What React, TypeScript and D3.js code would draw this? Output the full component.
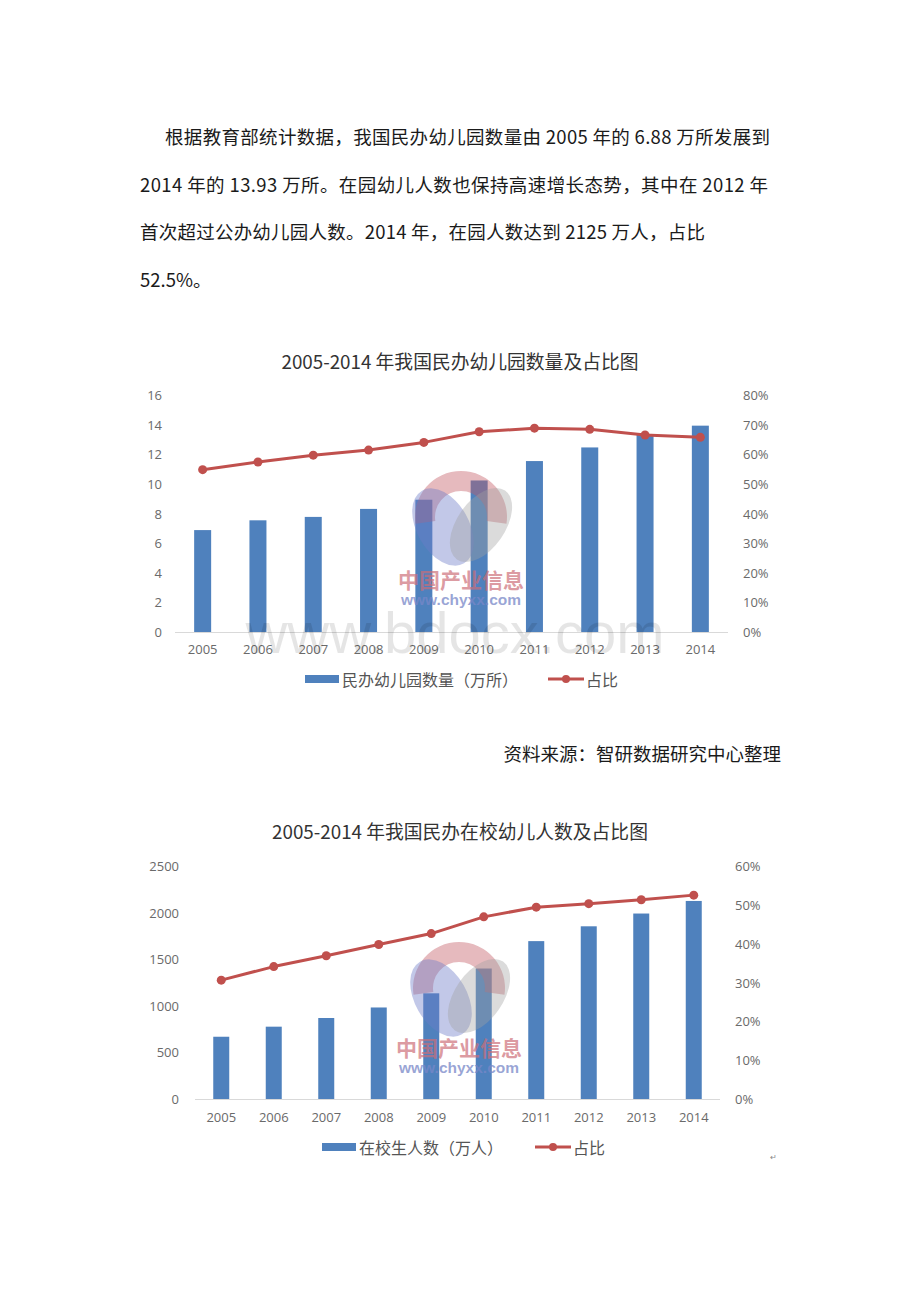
import React from 'react';
import * as d3 from 'd3';

const years = ['2005', '2006', '2007', '2008', '2009', '2010', '2011', '2012', '2013', '2014'];
const kgCount = [6.88, 7.54, 7.77, 8.31, 8.93, 10.23, 11.54, 12.46, 13.35, 13.93];
const kgShare = [54.8, 57.4, 59.7, 61.4, 64.0, 67.6, 68.8, 68.4, 66.5, 65.7];
const kgLeftTicks = [0, 2, 4, 6, 8, 10, 12, 14, 16];
const kgRightTicks = [0, 10, 20, 30, 40, 50, 60, 70, 80];

const stuCount = [668, 776, 869, 982, 1134, 1400, 1694, 1853, 1990, 2125];
const stuShare = [30.6, 34.1, 36.9, 39.8, 42.6, 46.9, 49.4, 50.3, 51.3, 52.5];
const stuLeftTicks = [0, 500, 1000, 1500, 2000, 2500];
const stuRightTicks = [0, 10, 20, 30, 40, 50, 60];

const paragraph = [
  '根据教育部统计数据，我国民办幼儿园数量由  2005 年的 6.88 万所发展到',
  '2014 年的 13.93 万所。在园幼儿人数也保持高速增长态势，其中在  2012 年',
  '首次超过公办幼儿园人数。2014 年，在园人数达到  2125 万人，占比',
  '52.5%。',
];

const CJK = '"Noto Sans CJK SC", "Noto Sans", sans-serif';
const NUM = '"Open Sans", "Noto Sans", sans-serif';
const BLUE = '#4F81BD';
const RED = '#C0504D';
const TICK = '#6a6a6a';

type ChartProps = {
  title: string;
  titleY: number;
  x0: number;
  x1: number;
  yTop: number;
  yBase: number;
  leftMax: number;
  rightMax: number;
  leftTicks: number[];
  rightTicks: number[];
  leftLabelX: number;
  rightLabelX: number;
  bars: number[];
  share: number[];
  yearY: number;
  legendY: number;
  legendX: number;
  legendLabel: string;
  legendTextW: number;
  barW: number;
};

function Chart(p: ChartProps) {
  const x = d3.scaleBand<string>().domain(years).range([p.x0, p.x1]);
  const yL = d3.scaleLinear().domain([0, p.leftMax]).range([p.yBase, p.yTop]);
  const yR = d3.scaleLinear().domain([0, p.rightMax]).range([p.yBase, p.yTop]);
  const cx = (d: string) => (x(d) as number) + x.bandwidth() / 2;
  const line = d3
    .line<number>()
    .x((_, i) => cx(years[i]))
    .y((v) => yR(v));
  const lx = p.legendX;
  const redX = lx + 37 + p.legendTextW + 30;
  return (
    <g>
      <text x={460} y={p.titleY} textAnchor="middle" dominantBaseline="central" fontFamily={CJK} fontSize={18.8} fill="#333">
        {p.title}
      </text>
      {p.leftTicks.map((t) => (
        <text key={'l' + t} x={p.leftLabelX} y={yL(t)} textAnchor="end" dominantBaseline="central" fontFamily={NUM} fontSize={13} fill={TICK}>
          {t}
        </text>
      ))}
      {p.rightTicks.map((t) => (
        <text key={'r' + t} x={p.rightLabelX} y={yR(t)} textAnchor="start" dominantBaseline="central" fontFamily={NUM} fontSize={13} fill={TICK}>
          {t + '%'}
        </text>
      ))}
      <line x1={p.x0} x2={p.x1} y1={p.yBase + 0.5} y2={p.yBase + 0.5} stroke="#d9d9d9" strokeWidth={1} />
      {p.bars.map((v, i) => (
        <rect key={years[i]} x={cx(years[i]) - p.barW / 2} y={yL(v)} width={p.barW} height={p.yBase - yL(v)} fill={BLUE} />
      ))}
      <path d={line(p.share) || ''} fill="none" stroke={RED} strokeWidth={3} strokeLinejoin="round" />
      {p.share.map((v, i) => (
        <circle key={'c' + i} cx={cx(years[i])} cy={yR(v)} r={4.5} fill={RED} />
      ))}
      {years.map((yr) => (
        <text key={'y' + yr} x={cx(yr)} y={p.yearY} textAnchor="middle" dominantBaseline="central" fontFamily={NUM} fontSize={13} fill={TICK}>
          {yr}
        </text>
      ))}
      <rect x={lx} y={p.legendY - 4} width={34} height={8} fill={BLUE} />
      <text x={lx + 37} y={p.legendY} dominantBaseline="central" fontFamily={CJK} fontSize={16} fill="#555">
        {p.legendLabel}
      </text>
      <line x1={redX} x2={redX + 36} y1={p.legendY} y2={p.legendY} stroke={RED} strokeWidth={3} />
      <circle cx={redX + 18} cy={p.legendY} r={4} fill={RED} />
      <text x={redX + 38} y={p.legendY} dominantBaseline="central" fontFamily={CJK} fontSize={16} fill="#555">
        占比
      </text>
    </g>
  );
}

function Logo({ cx, cy, textY }: { cx: number; cy: number; textY: number }) {
  const r = 46;
  const arc = d3.arc()({
    innerRadius: r - 20,
    outerRadius: r,
    startAngle: -Math.PI / 2 - 0.15,
    endAngle: Math.PI / 2 + 0.15,
  } as any) as string;
  return (
    <g>
      <path d={arc} transform={`translate(${cx},${cy})`} fill="rgba(196,90,100,0.42)" />
      <ellipse cx={cx - 18} cy={cy + 10} rx={26} ry={42} transform={`rotate(-30 ${cx - 18} ${cy + 10})`} fill="rgba(110,125,200,0.42)" />
      <ellipse cx={cx + 20} cy={cy + 8} rx={24} ry={42} transform={`rotate(35 ${cx + 20} ${cy + 8})`} fill="rgba(160,160,160,0.38)" />
      <text x={cx} y={textY} textAnchor="middle" dominantBaseline="central" fontFamily={CJK} fontWeight={700} fontSize={21} fill="rgba(205,110,120,0.7)">
        中国产业信息
      </text>
      <text x={cx} y={textY + 20} textAnchor="middle" dominantBaseline="central" fontFamily='"Liberation Sans", Arial, sans-serif' fontWeight={700} fontSize={15.5} fill="rgba(120,135,200,0.75)">
        www.chyxx.com
      </text>
    </g>
  );
}

export default function App() {
  return (
    <svg width={920} height={1302} style={{ position: 'absolute', left: 0, top: 0, background: '#fff' }}>
      <rect width={920} height={1302} fill="#fff" />
      {paragraph.map((t, i) => (
        <text
          key={i}
          x={i === 0 ? 165 : 140}
          y={144 + i * 47.7}
          fontFamily={CJK}
          fontSize={18.5}
          fill="#1a1a1a"
          textLength={i === 0 ? 605 : i === 1 ? 628 : i === 2 ? 565 : undefined}
          lengthAdjust="spacing"
        >
          {t}
        </text>
      ))}

      <Chart
        title="2005-2014 年我国民办幼儿园数量及占比图"
        titleY={360}
        x0={175}
        x1={728}
        yTop={395}
        yBase={632}
        leftMax={16}
        rightMax={80}
        leftTicks={kgLeftTicks}
        rightTicks={kgRightTicks}
        leftLabelX={162}
        rightLabelX={743}
        bars={kgCount}
        share={kgShare}
        yearY={649}
        legendY={679}
        legendX={305}
        legendLabel="民办幼儿园数量（万所）"
        legendTextW={176}
        barW={17}
      />
      <Logo cx={461} cy={517} textY={579} />
      <text x={455} y={632} textAnchor="middle" dominantBaseline="central" fontFamily='"Liberation Sans", Arial, sans-serif' fontSize={58} fill="rgba(0,0,0,0.1)">
        www.bdocx.com
      </text>

      <text x={781} y={753} textAnchor="end" dominantBaseline="central" fontFamily={CJK} fontSize={18.5} fill="#1a1a1a">
        资料来源：智研数据研究中心整理
      </text>

      <Chart
        title="2005-2014 年我国民办在校幼儿人数及占比图"
        titleY={830}
        x0={195}
        x1={720}
        yTop={866}
        yBase={1099}
        leftMax={2500}
        rightMax={60}
        leftTicks={stuLeftTicks}
        rightTicks={stuRightTicks}
        leftLabelX={179}
        rightLabelX={735}
        bars={stuCount}
        share={stuShare}
        yearY={1117}
        legendY={1147}
        legendX={322}
        legendLabel="在校生人数（万人）"
        legendTextW={146}
        barW={16}
      />
      <Logo cx={459} cy={988} textY={1047} />
      <text x={773} y={1156} textAnchor="middle" dominantBaseline="central" fontFamily={NUM} fontSize={8} fill="#888">
        ↵
      </text>
    </svg>
  );
}
